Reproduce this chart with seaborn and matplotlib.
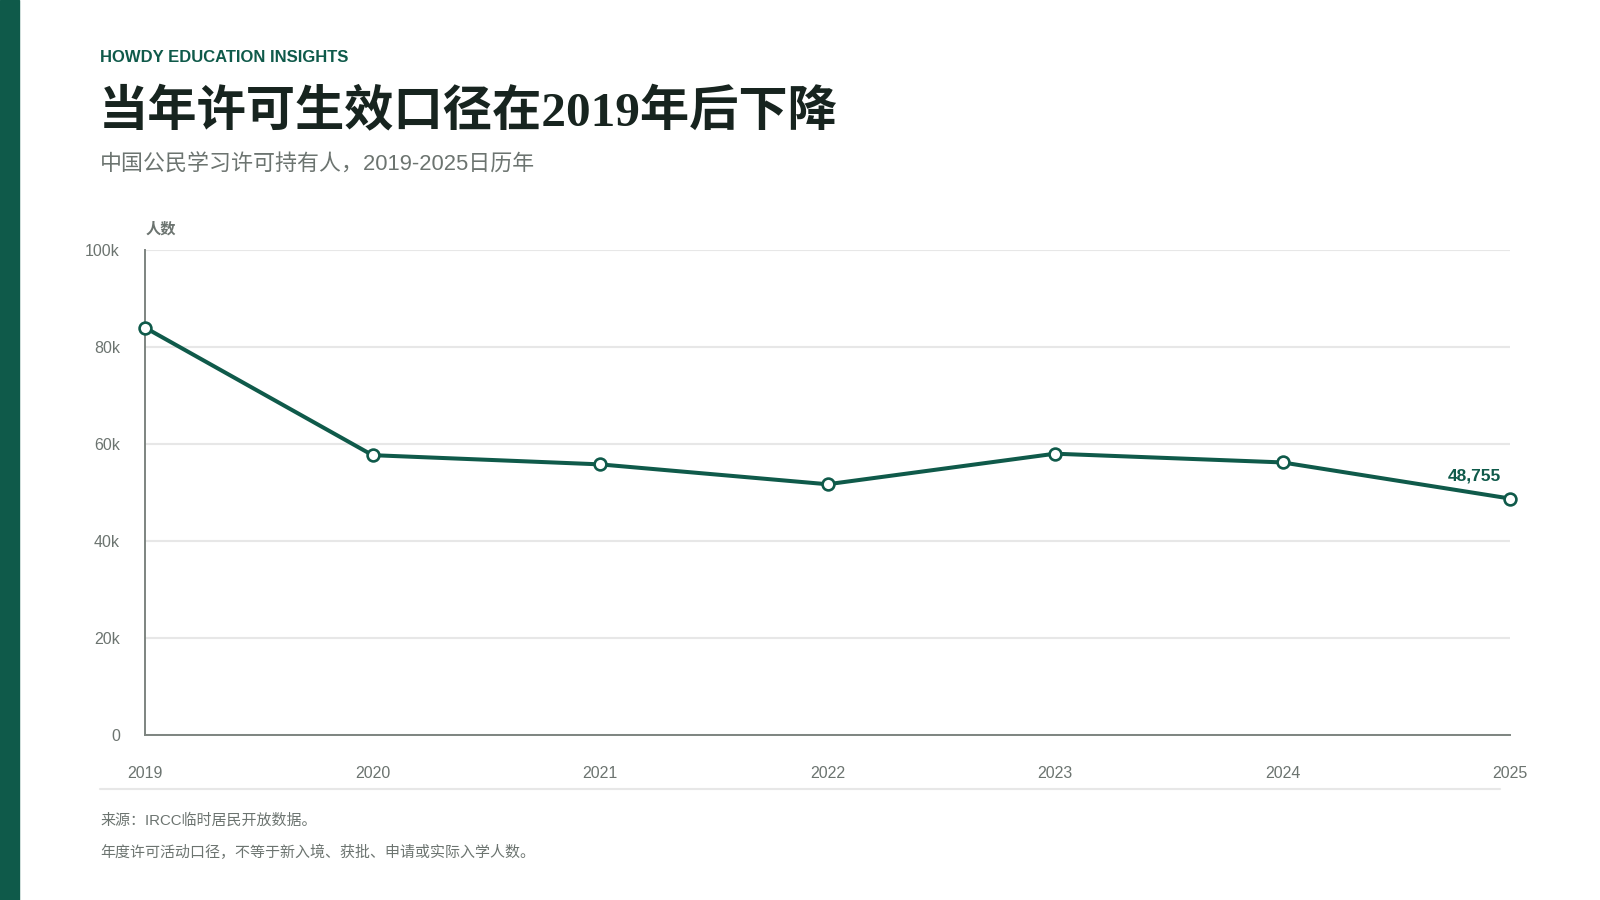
import matplotlib
matplotlib.use("Agg")
import matplotlib.pyplot as plt
from matplotlib.patches import Rectangle
from matplotlib.lines import Line2D
import pandas as pd
import seaborn as sns

# ---- data ----
years = [2019, 2020, 2021, 2022, 2023, 2024, 2025]
holders = [84000, 57700, 55800, 51700, 58000, 56200, 48755]
y_ticks = [0, 20000, 40000, 60000, 80000, 100000]
y_tick_labels = ["0", "20k", "40k", "60k", "80k", "100k"]
x_tick_labels = ["2019", "2020", "2021", "2022", "2023", "2024", "2025"]

kicker = "HOWDY EDUCATION INSIGHTS"
title = "当年许可生效口径在2019年后下降"
subtitle = "中国公民学习许可持有人，2019-2025日历年"
y_unit = "人数"
note1 = "来源：IRCC临时居民开放数据。"
note2 = "年度许可活动口径，不等于新入境、获批、申请或实际入学人数。"

GREEN = "#0f5a4a"
DARK = "#17241f"
GRAY = "#6c7470"
GRID = "#e7e7e7"
AXIS = "#7d8480"

sns.set_theme(style="white")
plt.rcParams['font.family'] = ['Liberation Sans', 'Noto Sans CJK SC', 'DejaVu Sans']

W, H = 1600, 900
fig = plt.figure(figsize=(16, 9), dpi=100)
fig.patch.set_facecolor("white")

def fx(px):
    return px / W

def fy(py):
    return 1 - py / H

ax = fig.add_axes([fx(145), fy(735), (1510 - 145) / W, (735 - 250) / H])

df = pd.DataFrame({"year": years, "holders": holders})
sns.lineplot(data=df, x="year", y="holders", ax=ax, color=GREEN, linewidth=2.9,
             marker="o", markersize=8.5, markerfacecolor="white",
             markeredgecolor=GREEN, markeredgewidth=1.9, clip_on=False, zorder=5)

ax.set_xlim(years[0], years[-1])
ax.set_ylim(y_ticks[0], y_ticks[-1])
ax.set_xticks(years)
ax.set_xticklabels(x_tick_labels)
ax.set_yticks(y_ticks)
ax.set_yticklabels(y_tick_labels)
ax.set_xlabel("")
ax.set_ylabel("")

ax.yaxis.grid(True, color=GRID, linewidth=1.5)
ax.xaxis.grid(False)
ax.set_axisbelow(True)
for s in ["top", "right"]:
    ax.spines[s].set_visible(False)
for s in ["left", "bottom"]:
    ax.spines[s].set_color(AXIS)
    ax.spines[s].set_linewidth(1.4)

ax.tick_params(axis="x", length=0, pad=22, labelsize=11.5, labelcolor=GRAY)
ax.tick_params(axis="y", length=0, pad=18, labelsize=11.5, labelcolor=GRAY)

# end label
ax.annotate(f"{holders[-1]:,}", xy=(years[-1], holders[-1]), xytext=(-6.5, 16.5),
            textcoords="offset points", ha="right", va="center",
            fontsize=12.5, fontweight="bold", color=GREEN)

# left accent bar
fig.patches.append(Rectangle((0, 0), fx(18.5), 1, transform=fig.transFigure,
                             color=GREEN, zorder=0))

# header texts
fig.text(fx(100), fy(58), kicker, fontsize=12, fontweight="bold", color=GREEN,
         ha="left", va="center")
fig.text(fx(99), fy(113), title, fontsize=35.5, fontweight="bold", color=DARK,
         ha="left", va="center", family=['Liberation Serif', 'Noto Sans CJK SC'])
fig.text(fx(100), fy(165), subtitle, fontsize=15.8, color=GRAY,
         ha="left", va="center")
fig.text(fx(146), fy(229), y_unit, fontsize=11, fontweight="bold", color=GRAY,
         ha="left", va="center")

# footer
fig.add_artist(Line2D([fx(100), fx(1500)], [fy(789), fy(789)], color=GRID,
                      linewidth=1.5, transform=fig.transFigure))
fig.text(fx(100), fy(821), note1, fontsize=10.8, color=GRAY, ha="left", va="center")
fig.text(fx(100), fy(852), note2, fontsize=10.8, color=GRAY, ha="left", va="center")

fig.savefig("out.png", dpi=100, facecolor="white")
